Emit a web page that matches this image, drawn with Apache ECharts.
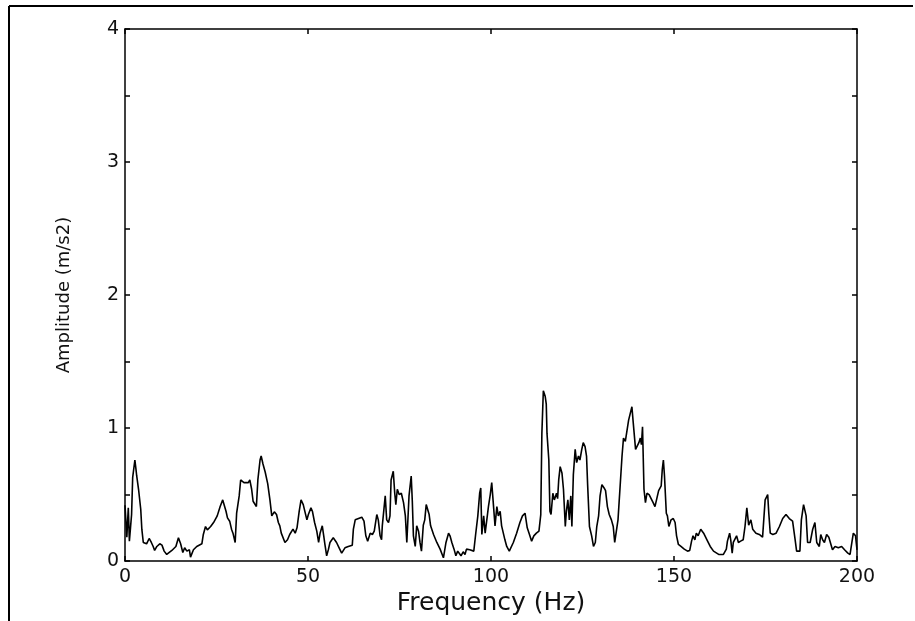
<!DOCTYPE html>
<html>
<head>
<meta charset="utf-8">
<script src="https://cdn.jsdelivr.net/npm/echarts@6/dist/echarts.min.js"></script>
<style>
html,body{margin:0;padding:0;background:#fff;}
#chart{width:915px;height:621px;}
</style>
</head>
<body>
<div id="chart"></div>
<script>
// Frequency (Hz) and amplitude (m/s2) turning points
const freq = [0,0.5,0.9,1.2,1.5,1.8,2.1,2.7,3.0,3.2,3.7,4.3,4.6,5.0,5.9,6.6,7.2,7.7,8.1,8.7,9.5,10.1,10.7,11.4,12.8,13.9,14.6,15.2,15.8,16.3,16.9,17.6,17.9,18.7,19.6,
21.0,21.4,22.0,22.5,23.0,23.4,24.2,25.2,26.0,26.7,27.6,28.0,28.6,29.1,29.5,30.1,30.5,31.2,31.6,32.5,33.0,33.7,34.1,34.6,35.0,35.5,35.9,36.3,36.9,37.2,37.7,38.3,39.0,39.6,
40.1,40.8,41.4,41.9,42.3,42.7,43.7,44.4,45.0,45.9,46.5,47.0,47.6,48.1,48.7,49.2,49.7,50.1,50.8,51.2,51.8,52.4,52.9,53.3,53.9,54.3,54.6,55.1,55.6,56.0,56.9,57.8,58.5,59.2,
60.1,61.0,62.1,62.4,62.9,63.8,64.7,65.3,65.8,66.3,67.0,67.6,68.1,68.8,69.2,69.7,70.1,70.3,71.1,71.5,72.0,72.4,72.7,73.3,73.7,74.0,74.4,74.9,75.5,76.1,76.6,77.0,77.6,78.2,78.5,78.8,79.3,79.7,
80.2,80.6,81.0,81.5,81.9,82.3,82.6,83.1,83.5,84.3,85.2,86.1,87.0,87.7,88.4,88.8,89.3,89.9,90.4,90.9,91.3,91.8,92.4,92.9,93.3,94.2,95.3,95.8,96.4,96.9,97.2,97.5,98.0,98.4,98.9,99.3,99.8,
100.2,100.7,101.1,101.6,102.0,102.5,102.9,103.4,103.8,104.3,105.0,106.1,107.0,107.9,108.6,109.3,109.9,110.4,111.1,111.7,112.4,113.1,113.6,113.9,114.3,114.8,115.1,115.3,115.8,116.1,116.4,116.9,117.3,117.9,118.2,118.5,118.9,119.4,119.8,
120.3,120.6,121.0,121.4,121.8,122.1,122.5,123.0,123.4,123.9,124.3,124.8,125.2,125.7,126.1,126.4,126.9,127.5,128.0,128.5,128.9,129.4,129.8,130.3,130.9,131.3,131.8,132.3,132.9,133.4,133.8,134.3,134.7,135.2,135.8,136.2,136.7,137.1,137.6,138.0,138.5,138.8,139.1,139.5,139.9,
140.4,140.8,141.1,141.4,141.8,142.2,142.6,143.2,143.7,144.3,144.8,145.3,145.8,146.5,146.8,147.1,147.4,147.9,148.2,148.6,149.2,149.8,150.3,150.7,151.2,151.9,152.8,153.7,154.3,154.8,155.2,155.7,156.1,156.6,157.3,158.1,159.0,159.9,
160.8,162.2,163.5,164.3,164.6,165.2,165.5,165.9,166.2,166.7,167.1,167.6,168.2,168.9,169.4,169.9,170.2,170.4,171.0,171.5,172.4,173.3,174.2,174.9,175.6,175.9,176.3,177.0,177.9,178.8,179.7,
180.6,181.5,182.4,183.1,183.5,184.4,184.8,185.4,186.1,186.5,187.2,187.9,188.5,189.0,189.7,190.1,190.6,191.1,191.7,192.3,193.3,194.0,194.9,195.8,196.6,197.5,198.1,198.6,199.0,199.6,200];
const amp = [0.42,0.18,0.40,0.15,0.25,0.35,0.63,0.76,0.69,0.64,0.54,0.39,0.24,0.14,0.13,0.17,0.14,0.11,0.08,0.11,0.13,0.12,0.075,0.05,0.08,0.11,0.175,0.13,0.065,0.10,0.075,0.085,0.03,0.085,0.11,
0.13,0.20,0.26,0.235,0.24,0.26,0.29,0.34,0.41,0.46,0.375,0.325,0.30,0.24,0.21,0.14,0.36,0.49,0.61,0.59,0.60,0.59,0.61,0.54,0.45,0.44,0.41,0.61,0.76,0.79,0.73,0.67,0.58,0.46,
0.34,0.37,0.35,0.29,0.265,0.21,0.14,0.16,0.20,0.24,0.21,0.25,0.375,0.46,0.425,0.41,0.31,0.35,0.40,0.375,0.29,0.225,0.14,0.21,0.265,0.19,0.13,0.04,0.09,0.14,0.175,0.14,0.10,0.06,
0.10,0.11,0.12,0.24,0.31,0.32,0.33,0.30,0.19,0.15,0.21,0.20,0.225,0.35,0.31,0.19,0.16,0.265,0.49,0.31,0.29,0.34,0.61,0.675,0.51,0.425,0.54,0.50,0.51,0.44,0.34,0.14,0.49,0.64,0.45,0.19,0.11,0.265,
0.225,0.14,0.075,0.27,0.31,0.425,0.44,0.35,0.265,0.20,0.14,0.09,0.025,0.14,0.21,0.19,0.14,0.09,0.04,0.075,0.09,0.04,0.07,0.05,0.09,0.085,0.075,0.20,0.34,0.51,0.55,0.20,0.34,0.21,0.32,0.41,0.50,
0.59,0.60,0.265,0.41,0.34,0.375,0.265,0.25,0.16,0.11,0.075,0.14,0.21,0.29,0.34,0.36,0.25,0.21,0.15,0.19,0.21,0.225,0.35,0.96,1.28,1.24,1.18,0.96,0.76,0.375,0.35,0.51,0.46,0.51,0.47,0.61,0.71,0.66,0.54,
0.26,0.375,0.46,0.31,0.49,0.26,0.65,0.84,0.74,0.79,0.76,0.84,0.89,0.86,0.79,0.575,0.26,0.19,0.11,0.14,0.26,0.34,0.49,0.575,0.55,0.53,0.41,0.35,0.31,0.26,0.14,0.14,0.31,0.31,0.79,0.925,0.90,0.91,1.06,1.075,1.16,1.06,1.06,0.84,0.825,
0.89,0.925,0.875,1.01,0.54,0.44,0.51,0.50,0.51,0.44,0.41,0.42,0.53,0.565,0.69,0.76,0.64,0.36,0.34,0.26,0.31,0.32,0.29,0.19,0.125,0.11,0.09,0.075,0.08,0.15,0.19,0.16,0.21,0.19,0.24,0.21,0.16,0.11,
0.075,0.05,0.05,0.09,0.15,0.21,0.16,0.06,0.14,0.13,0.19,0.14,0.15,0.16,0.26,0.40,0.40,0.27,0.31,0.24,0.21,0.20,0.18,0.46,0.50,0.36,0.21,0.20,0.21,0.26,0.32,
0.35,0.32,0.30,0.16,0.075,0.075,0.31,0.425,0.34,0.14,0.14,0.24,0.29,0.14,0.11,0.20,0.16,0.14,0.20,0.18,0.085,0.11,0.10,0.11,0.085,0.06,0.05,0.14,0.21,0.19,0.085];

const xTicks = {min: 0, max: 200, interval: 50};
const yTicks = {min: 0, max: 4, interval: 0.5};

const chart = echarts.init(document.getElementById('chart'));
function axisCommon() {
  return {
    axisLine: {show: true, onZero: false, lineStyle: {color: '#000', width: 1.5}},
    axisTick: {show: true, inside: true, length: 5, lineStyle: {color: '#000', width: 1.5}},
    splitLine: {show: false}
  };
}
const labelStyle = {color: '#111', fontFamily: 'DejaVu Sans', fontSize: 19};
chart.setOption({
  animation: false,
  backgroundColor: '#fff',
  grid: {left: 125, top: 29, right: 58, bottom: 59},
  graphic: [
    {type: 'line', shape: {x1: 9, y1: 6, x2: 913, y2: 6}, style: {stroke: '#000', lineWidth: 2}},
    {type: 'line', shape: {x1: 9, y1: 6, x2: 9, y2: 621}, style: {stroke: '#000', lineWidth: 2}}
  ],
  xAxis: [
    Object.assign({type: 'value', position: 'bottom', min: xTicks.min, max: xTicks.max, interval: xTicks.interval,
      name: 'Frequency (Hz)', nameLocation: 'middle', nameGap: 25,
      nameTextStyle: {color: '#111', fontFamily: 'DejaVu Sans', fontSize: 25},
      axisLabel: Object.assign({margin: 6}, labelStyle)}, axisCommon()),
    Object.assign({type: 'value', position: 'top', min: xTicks.min, max: xTicks.max, interval: xTicks.interval,
      axisLabel: {show: false}}, axisCommon())
  ],
  yAxis: [
    Object.assign({type: 'value', position: 'left', min: yTicks.min, max: yTicks.max, interval: yTicks.interval,
      name: 'Amplitude (m/s2)', nameLocation: 'middle', nameGap: 52, nameRotate: 90,
      nameTextStyle: {color: '#111', fontFamily: 'DejaVu Sans', fontSize: 18},
      axisLabel: Object.assign({margin: 6, formatter: v => (Number.isInteger(v) ? String(v) : '')}, labelStyle)}, axisCommon()),
    Object.assign({type: 'value', position: 'right', min: yTicks.min, max: yTicks.max, interval: yTicks.interval,
      axisLabel: {show: false}}, axisCommon())
  ],
  series: [{
    type: 'line',
    xAxisIndex: 0, yAxisIndex: 0,
    data: freq.map((f, i) => [f, amp[i]]),
    showSymbol: false,
    symbol: 'none',
    lineStyle: {color: '#000', width: 1.6},
    clip: true
  }]
});
</script>
</body>
</html>
